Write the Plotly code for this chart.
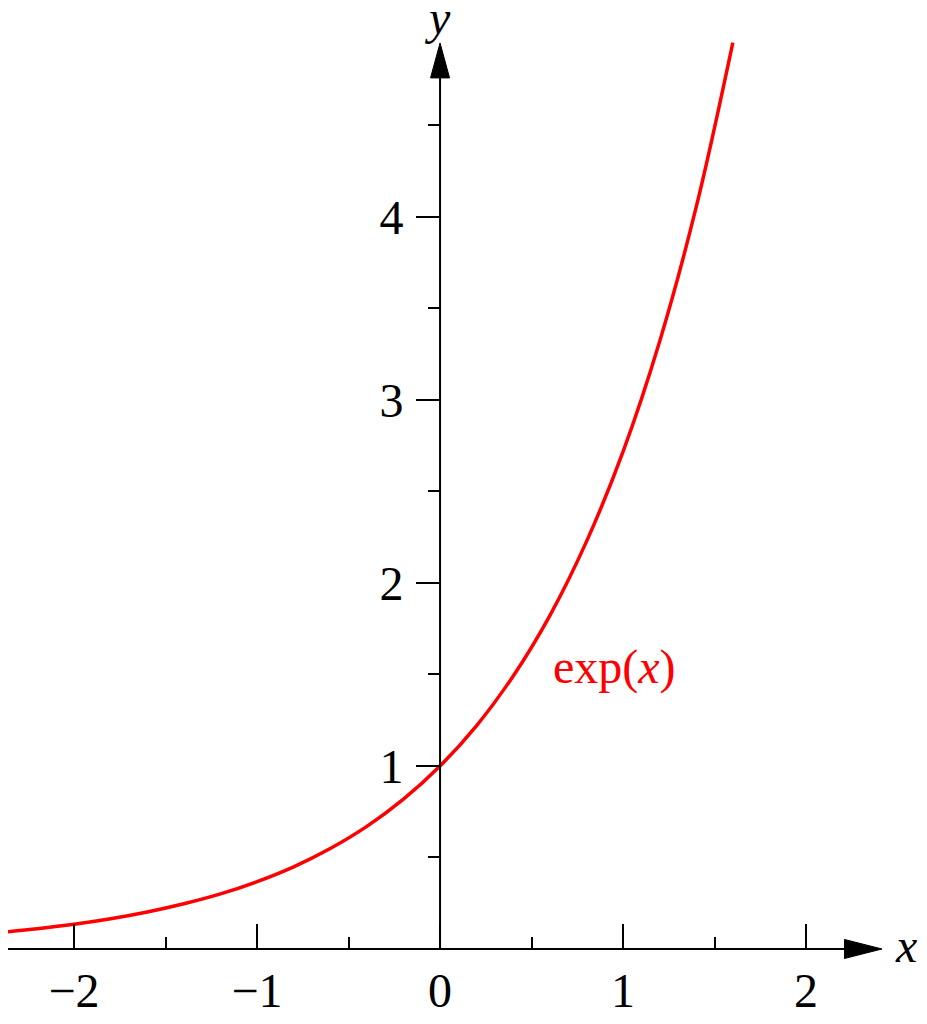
import plotly.graph_objects as go

# curve samples
x_vals = [-2.4, -2.2, -2.0, -1.8, -1.6, -1.4, -1.2, -1.0, -0.8, -0.6, -0.4,
          -0.2, 0.0, 0.2, 0.4, 0.6, 0.8, 1.0, 1.2, 1.4, 1.6]
y_vals = [0.091, 0.111, 0.135, 0.165, 0.202, 0.247, 0.301, 0.368, 0.449, 0.549, 0.670,
          0.819, 1.0, 1.221, 1.492, 1.822, 2.226, 2.718, 3.320, 4.055, 4.953]

x_ticks = [-2, -1, 0, 1, 2]
x_minor = [-1.5, -0.5, 0.5, 1.5]
y_ticks = [1, 2, 3, 4]
y_minor = [0.5, 1.5, 2.5, 3.5, 4.5]

curve_label = "exp(<i>x</i>)"

FONT = "Liberation Serif"
# page body has an 8px margin, so the figure is 8px smaller each way
W, H = 919, 1016
xr = [-2.361, 2.661]
yr = [-0.410, 5.142]

fig = go.Figure()
fig.add_trace(go.Scatter(x=x_vals, y=y_vals, mode="lines", line_shape="spline",
                         line=dict(color="#ff0000", width=3.5), showlegend=False,
                         hoverinfo="skip"))

# axis lines + arrow heads
fig.add_shape(type="line", x0=xr[0] - 0.05, x1=2.22, y0=0, y1=0,
              line=dict(color="black", width=2))
fig.add_shape(type="line", x0=0, x1=0, y0=0, y1=4.77,
              line=dict(color="black", width=2))
fig.add_shape(type="path", path="M 2.21,-0.052 L 2.415,0 L 2.21,0.052 Z",
              fillcolor="black", line=dict(color="black", width=1))
fig.add_shape(type="path", path="M -0.052,4.76 L 0,4.951 L 0.052,4.76 Z",
              fillcolor="black", line=dict(color="black", width=1))

fig.add_annotation(x=2.545, y=0.02, text="<i>x</i>", showarrow=False,
                   font=dict(family=FONT, size=48, color="black"))
fig.add_annotation(x=-0.016, y=5.09, text="<i>y</i>", showarrow=False,
                   font=dict(family=FONT, size=48, color="black"))
fig.add_annotation(x=0.956, y=1.54, text=curve_label, showarrow=False,
                   font=dict(family=FONT, size=48, color="#ff0000"))

fig.update_layout(
    width=W, height=H,
    margin=dict(l=0, r=0, t=0, b=0),
    plot_bgcolor="white", paper_bgcolor="white",
    font=dict(family=FONT, size=48, color="black"),
    xaxis=dict(range=xr, anchor="free", position=-yr[0] / (yr[1] - yr[0]),
               automargin=False, showgrid=False, zeroline=False, showline=False,
               tickmode="array", tickvals=x_ticks, ticks="inside",
               ticklen=25, tickwidth=2, tickcolor="black",
               ticklabelstandoff=9,
               minor=dict(tickmode="array", tickvals=x_minor, ticks="inside",
                          ticklen=12, tickwidth=2, tickcolor="black", showgrid=False)),
    yaxis=dict(range=yr, anchor="free", position=-xr[0] / (xr[1] - xr[0]),
               automargin=False, showgrid=False, zeroline=False, showline=False,
               tickmode="array", tickvals=y_ticks, ticks="outside",
               ticklen=24, tickwidth=2, tickcolor="black",
               ticklabelstandoff=3,
               minor=dict(tickmode="array", tickvals=y_minor, ticks="outside",
                          ticklen=12, tickwidth=2, tickcolor="black", showgrid=False)),
)

fig.write_html("out.html")
